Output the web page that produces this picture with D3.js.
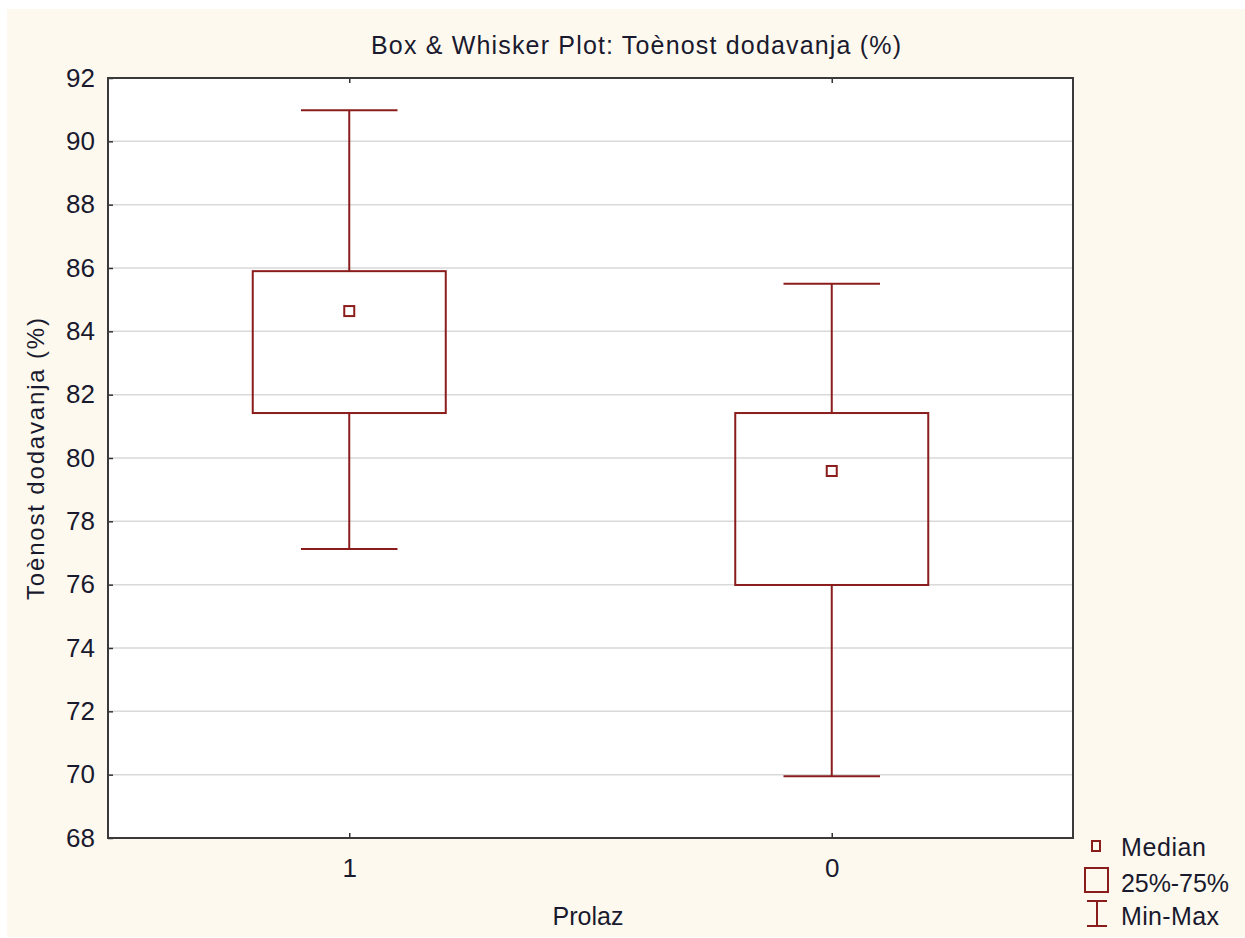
<!DOCTYPE html>
<html><head><meta charset="utf-8">
<script src="https://cdn.jsdelivr.net/npm/d3@7"></script>
<style>body{margin:0;background:#fff;} svg{display:block;} text{font-family:"Liberation Sans",Arial,sans-serif;fill:#1a1a2e;}</style>
</head><body>
<svg id="c" width="1245" height="938"></svg>
<script>
const categories = ["1", "0"];
const minVals = [77.13, 69.95];
const q1Vals = [81.42, 75.99];
const medianVals = [84.64, 79.59];
const q3Vals = [85.9, 81.42];
const maxVals = [90.98, 85.5];
const yTicks = [68, 70, 72, 74, 76, 78, 80, 82, 84, 86, 88, 90, 92];
const titleText = "Box & Whisker Plot: Toènost dodavanja (%)";
const yLabel = "Toènost dodavanja (%)";
const xLabel = "Prolaz";
const legendLabels = ["Median", "25%-75%", "Min-Max"];

const data = categories.map((c, i) => ({cat: c, min: minVals[i], q1: q1Vals[i], med: medianVals[i], q3: q3Vals[i], max: maxVals[i]}));

const svg = d3.select("#c");
const red = "#8b1c1c";
const L = 108, R = 1073, T = 78, B = 838;
const FONT = "Liberation Sans, Arial, sans-serif";

svg.append("rect").attr("x", 7).attr("y", 9).attr("width", 1238).attr("height", 928).attr("fill", "#fef9ef");
svg.append("rect").attr("x", L).attr("y", T).attr("width", R - L).attr("height", B - T).attr("fill", "#fff");

const y = d3.scaleLinear().domain([68, 92]).range([B, T]);
const x = d3.scalePoint().domain(categories).range([L, R]).padding(0.5);
const boxW = (R - L) * 0.2;
const capW = boxW / 2;

// grid
svg.append("g").selectAll("line").data(yTicks.filter(t => t > 68 && t < 92)).join("line")
  .attr("x1", L).attr("x2", R).attr("y1", d => y(d)).attr("y2", d => y(d))
  .attr("stroke", "#d9d9d9").attr("stroke-width", 1.5);

// axes
const yAxis = d3.axisLeft(y).tickValues(yTicks).tickSize(-5).tickPadding(13).tickFormat(d3.format("d"));
const gy = svg.append("g").attr("transform", `translate(${L},0)`).call(yAxis);
gy.select(".domain").remove();
gy.selectAll(".tick line").attr("stroke", "#333").attr("stroke-width", 1.5);
gy.selectAll(".tick text").attr("font-size", 26).attr("fill", "#1a1a2e").attr("font-family", FONT);

const xAxis = d3.axisBottom(x).tickSize(-5).tickPadding(21);
const gx = svg.append("g").attr("transform", `translate(0,${B})`).call(xAxis);
gx.select(".domain").remove();
gx.selectAll(".tick line").attr("stroke", "#333").attr("stroke-width", 1.5);
gx.selectAll(".tick text").attr("font-size", 26).attr("fill", "#1a1a2e").attr("font-family", FONT);

const gxt = svg.append("g").attr("transform", `translate(0,${T})`).call(d3.axisTop(x).tickSize(-5).tickFormat(""));
gxt.select(".domain").remove();
gxt.selectAll(".tick line").attr("stroke", "#333").attr("stroke-width", 1.5);

// boxes
const g = svg.append("g").selectAll("g").data(data).join("g");
g.append("line").attr("x1", d => x(d.cat)).attr("x2", d => x(d.cat))
  .attr("y1", d => y(d.max)).attr("y2", d => y(d.q3)).attr("stroke", red).attr("stroke-width", 2);
g.append("line").attr("x1", d => x(d.cat)).attr("x2", d => x(d.cat))
  .attr("y1", d => y(d.q1)).attr("y2", d => y(d.min)).attr("stroke", red).attr("stroke-width", 2);
g.append("line").attr("x1", d => x(d.cat) - capW / 2).attr("x2", d => x(d.cat) + capW / 2)
  .attr("y1", d => y(d.max)).attr("y2", d => y(d.max)).attr("stroke", red).attr("stroke-width", 2);
g.append("line").attr("x1", d => x(d.cat) - capW / 2).attr("x2", d => x(d.cat) + capW / 2)
  .attr("y1", d => y(d.min)).attr("y2", d => y(d.min)).attr("stroke", red).attr("stroke-width", 2);
g.append("rect").attr("x", d => x(d.cat) - boxW / 2).attr("width", boxW)
  .attr("y", d => y(d.q3)).attr("height", d => y(d.q1) - y(d.q3))
  .attr("fill", "none").attr("stroke", red).attr("stroke-width", 2);
g.append("rect").attr("x", d => x(d.cat) - 5).attr("y", d => y(d.med) - 5).attr("width", 10).attr("height", 10)
  .attr("fill", "none").attr("stroke", red).attr("stroke-width", 2);

// frame
svg.append("rect").attr("x", L).attr("y", T).attr("width", R - L).attr("height", B - T)
  .attr("fill", "none").attr("stroke", "#3a3a3a").attr("stroke-width", 2);

// titles
svg.append("text").attr("x", 636).attr("y", 54).attr("text-anchor", "middle").attr("font-size", 25)
  .attr("textLength", 530).attr("lengthAdjust", "spacing").text(titleText);
svg.append("text").attr("transform", "translate(44,459) rotate(-90)").attr("text-anchor", "middle")
  .attr("font-size", 24).attr("textLength", 282).attr("lengthAdjust", "spacing").text(yLabel);
svg.append("text").attr("x", 588).attr("y", 925).attr("text-anchor", "middle").attr("font-size", 25).text(xLabel);

// legend
const lg = svg.append("g");
lg.append("rect").attr("x", 1092).attr("y", 841).attr("width", 8).attr("height", 10).attr("fill", "none").attr("stroke", red).attr("stroke-width", 2);
lg.append("rect").attr("x", 1085).attr("y", 868).attr("width", 23).attr("height", 24).attr("fill", "none").attr("stroke", red).attr("stroke-width", 2);
lg.append("line").attr("x1", 1087).attr("x2", 1107).attr("y1", 901).attr("y2", 901).attr("stroke", red).attr("stroke-width", 2);
lg.append("line").attr("x1", 1087).attr("x2", 1107).attr("y1", 926).attr("y2", 926).attr("stroke", red).attr("stroke-width", 2);
lg.append("line").attr("x1", 1097).attr("x2", 1097).attr("y1", 901).attr("y2", 926).attr("stroke", red).attr("stroke-width", 2);
const legW = [85, 108, 98];
const legY = [856, 892, 925];
lg.selectAll("text.lt").data(legendLabels).join("text").attr("class", "lt")
  .attr("x", 1121).attr("y", (d, i) => legY[i]).attr("font-size", 25)
  .attr("textLength", (d, i) => legW[i]).attr("lengthAdjust", "spacing").text(d => d);
</script>
</body></html>
